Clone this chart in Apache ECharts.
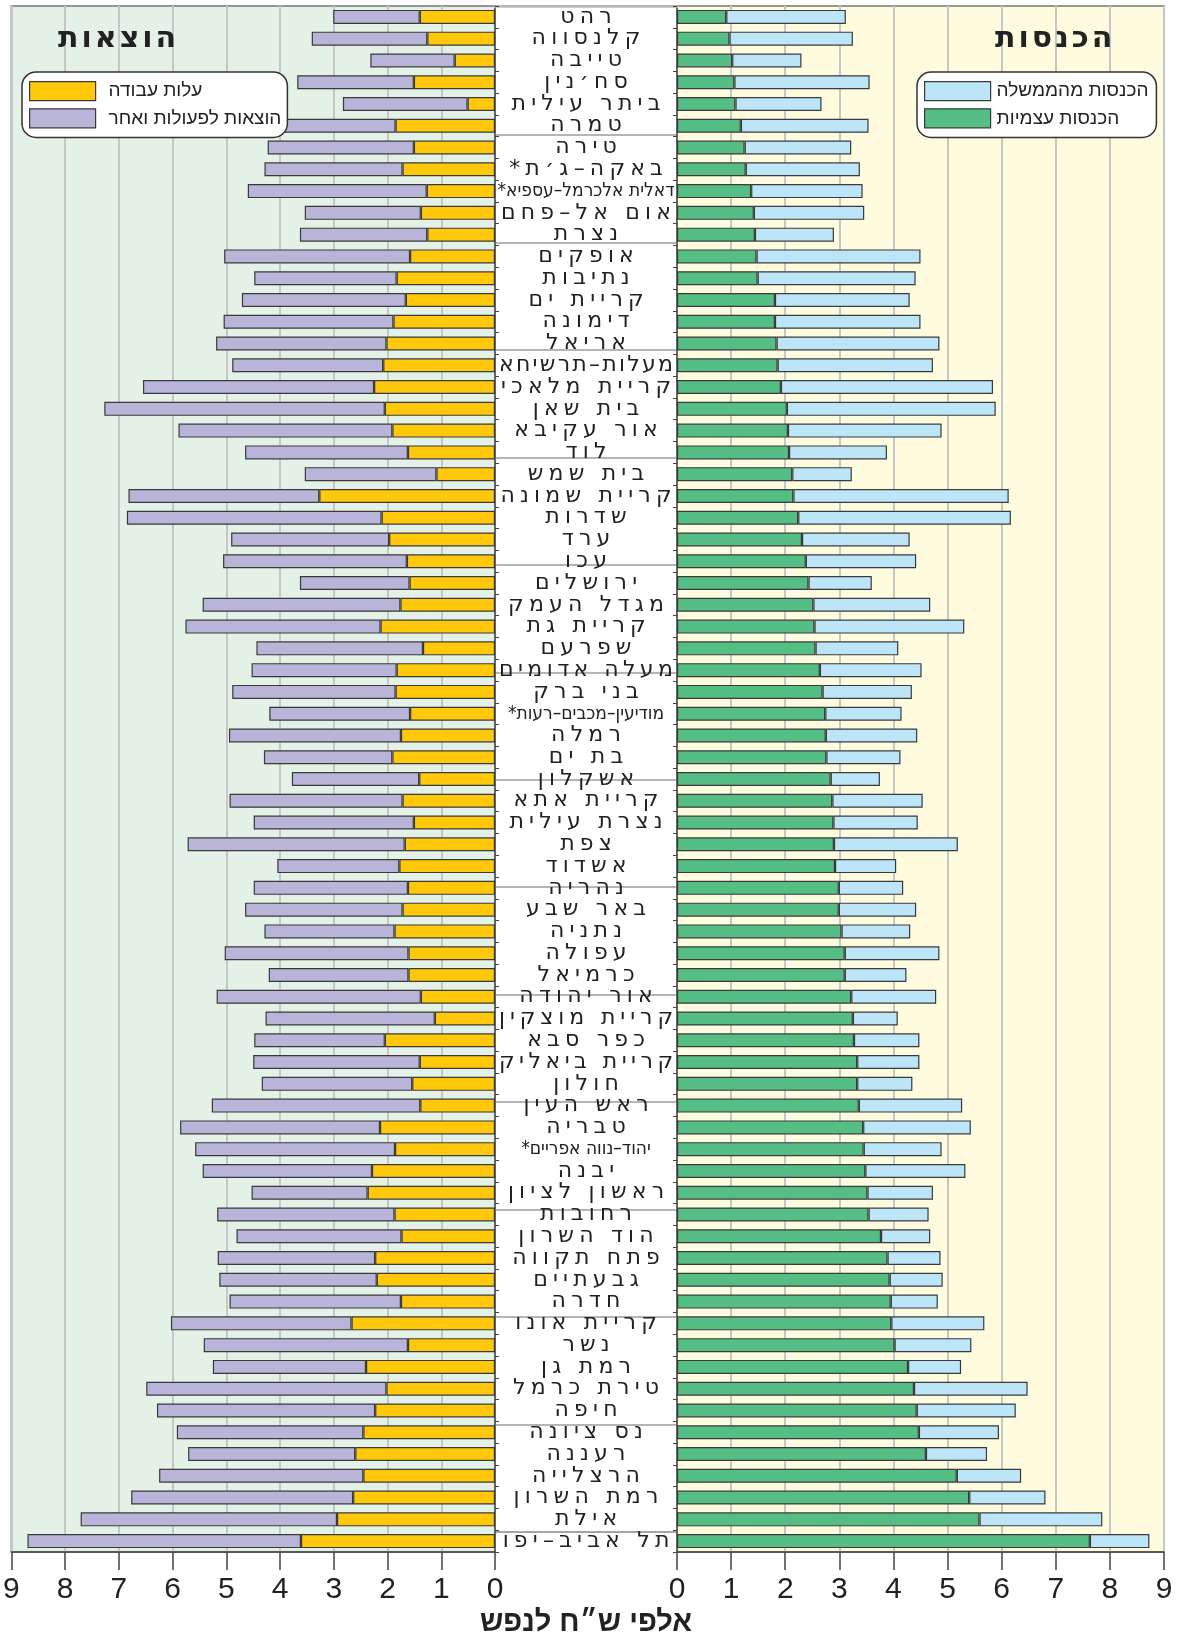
<!DOCTYPE html>
<html dir="rtl" lang="he">
<head>
<meta charset="utf-8">
<script src="https://cdn.jsdelivr.net/npm/echarts@6/dist/echarts.min.js"></script>
<style>html,body{margin:0;padding:0;background:#fff}#c{width:1179px;height:1642px}</style>
</head>
<body>
<div id="c"></div>
<script>
const cities = ['רהט','קלנסווה','טייבה','סח׳נין','ביתר עילית','טמרה','טירה','באקה–ג׳ת*','דאלית אלכרמל–עספיא*','אום אל–פחם','נצרת','אופקים','נתיבות','קריית ים','דימונה','אריאל','מעלות–תרשיחא','קריית מלאכי','בית שאן','אור עקיבא','לוד','בית שמש','קריית שמונה','שדרות','ערד','עכו','ירושלים','מגדל העמק','קריית גת','שפרעם','מעלה אדומים','בני ברק','מודיעין–מכבים–רעות*','רמלה','בת ים','אשקלון','קריית אתא','נצרת עילית','צפת','אשדוד','נהריה','באר שבע','נתניה','עפולה','כרמיאל','אור יהודה','קריית מוצקין','כפר סבא','קריית ביאליק','חולון','ראש העין','טבריה','יהוד–נווה אפריים*','יבנה','ראשון לציון','רחובות','הוד השרון','פתח תקווה','גבעתיים','חדרה','קריית אונו','נשר','רמת גן','טירת כרמל','חיפה','נס ציונה','רעננה','הרצלייה','רמת השרון','אילת','תל אביב–יפו'];

// expenses (thousand NIS per capita)
const laborCost = [1.40,1.26,0.75,1.51,0.51,1.85,1.51,1.72,1.27,1.38,1.26,1.58,1.83,1.66,1.89,2.02,2.08,2.25,2.05,1.91,1.62,1.09,3.27,2.11,1.97,1.64,1.59,1.76,2.13,1.34,1.83,1.85,1.58,1.75,1.91,1.41,1.72,1.51,1.68,1.78,1.62,1.72,1.87,1.61,1.61,1.38,1.12,2.05,1.40,1.54,1.39,2.14,1.86,2.29,2.37,1.87,1.74,2.23,2.20,1.75,2.67,1.62,2.40,2.02,2.23,2.45,2.60,2.45,2.64,2.94,3.61];
const otherExpenses = [1.61,2.15,1.57,2.17,2.32,2.07,2.72,2.57,3.33,2.16,2.37,3.46,2.65,3.05,3.16,3.17,2.81,4.30,5.22,3.98,3.03,2.45,3.55,4.74,2.94,3.42,2.04,3.68,3.63,3.10,2.70,3.04,2.62,3.20,2.39,2.37,3.22,2.98,4.04,2.27,2.87,2.93,2.42,3.42,2.60,3.80,3.15,2.43,3.10,2.80,3.88,3.72,3.72,3.15,2.16,3.30,3.07,2.93,2.93,3.19,3.36,3.80,2.85,4.47,4.06,3.47,3.11,3.80,4.13,4.77,5.09];

// income (thousand NIS per capita)
const ownIncome = [0.91,0.97,1.02,1.06,1.08,1.18,1.25,1.27,1.37,1.42,1.44,1.47,1.49,1.81,1.81,1.84,1.86,1.92,2.03,2.05,2.07,2.13,2.15,2.24,2.31,2.38,2.43,2.52,2.54,2.56,2.64,2.69,2.74,2.75,2.76,2.84,2.87,2.89,2.90,2.92,2.99,2.99,3.04,3.10,3.10,3.22,3.25,3.27,3.33,3.33,3.36,3.44,3.45,3.48,3.52,3.54,3.77,3.89,3.93,3.95,3.96,4.02,4.27,4.38,4.43,4.47,4.60,5.17,5.40,5.59,7.63];
const govIncome = [2.21,2.28,1.28,2.50,1.59,2.36,1.97,2.11,2.06,2.04,1.46,3.03,2.92,2.49,2.69,3.01,2.87,3.92,3.86,2.84,1.81,1.10,3.98,3.93,1.99,2.04,1.17,2.16,2.77,1.53,1.88,1.65,1.41,1.69,1.37,0.91,1.67,1.56,2.29,1.13,1.19,1.43,1.27,1.75,1.14,1.57,0.83,1.21,1.15,1.02,1.91,1.99,1.44,1.85,1.21,1.11,0.91,0.98,0.98,0.87,1.72,1.42,0.98,2.10,1.83,1.48,1.13,1.19,1.41,2.27,1.10];

const longNames = ['דאלית אלכרמל–עספיא*','מודיעין–מכבים–רעות*','יהוד–נווה אפריים*'];

// spaced-out lettering for the city names and panel titles (rendering only;
// Hebrew letters are unjoined, so each glyph is placed right-to-left with extra gap)
(function(){
  const proto = CanvasRenderingContext2D.prototype;
  const orig = proto.fillText;
  proto.fillText = function(text, x, y, maxW){
    const f = this.font || '';
    if (f.indexOf('DejaVu Sans') >= 0 && f.indexOf('Condensed') < 0) {
      const chars = Array.from(String(text));
      const n = chars.length;
      const ws = chars.map(c => this.measureText(c).width);
      const w0 = ws.reduce((a, b) => a + b, 0);
      const sp = /\b30px/.test(f) ? 3 : Math.max(0, Math.min(5.2, (174 - w0) / Math.max(1, n - 1)));
      const total = w0 + sp * (n - 1);
      const align = this.textAlign;
      let cx = align === 'center' ? x - total / 2 : (align === 'right' ? x - total : x);
      this.textAlign = 'left';
      for (let i = n - 1; i >= 0; i--) { orig.call(this, chars[i], cx, y); cx += ws[i] + sp; }
      this.textAlign = align;
      return;
    }
    return orig.apply(this, arguments);
  };
})();

const COL = {
  labor:'#FFC80B', other:'#B8B5D8', own:'#55BE85', gov:'#BDE5F8',
  bgL:'#E3F1E6', bgR:'#FFFBDF', grid:'#C6C6C6', edge:'#3a3a3a'
};

const catData = cities.map(c => longNames.includes(c)
  ? {value:c, textStyle:{fontSize:19, fontFamily:'DejaVu Sans Condensed', align:'center', color:'#222', padding:[0,0,3,0]}}
  : c);

// group separators in the name column: a line after every 5th city, starting after the 6th
const sepColors = [];
for (let b = 0; b <= cities.length; b++) sepColors.push(b >= 6 && b < cities.length && (b - 6) % 5 === 0 ? '#B5B5B5' : 'rgba(0,0,0,0)');

const TOP = 6, H = 1546;
const tickFont = {fontFamily:'Liberation Sans Narrow, Liberation Sans, Arial', fontSize:30, color:'#222'};
const barBorder = {borderColor:COL.edge, borderWidth:1.2};

const chart = echarts.init(document.getElementById('c'));
chart.setOption({
  animation:false,
  title:[
    {text:'הוצאות', left:53, top:19, textStyle:{fontFamily:'DejaVu Sans', fontWeight:'bold', fontSize:30, color:'#222'}},
    {text:'הכנסות', left:990, top:19, textStyle:{fontFamily:'DejaVu Sans', fontWeight:'bold', fontSize:30, color:'#222'}}
  ],
  legend:[
    {data:['עלות עבודה','הוצאות לפעולות ואחר'], orient:'vertical', left:22, top:72,
     itemWidth:66, itemHeight:19, itemGap:7, padding:[9,6,9,7], icon:'rect',
     backgroundColor:'#fff', borderColor:'#333', borderWidth:1.5, borderRadius:14,
     itemStyle:{borderColor:COL.edge, borderWidth:1.2},
     textStyle:{fontFamily:'Liberation Sans, Arial', fontSize:19, color:'#222', padding:[0,0,0,8]}},
    {data:['הכנסות מהממשלה','הכנסות עצמיות'], orient:'vertical', left:917, top:72,
     itemWidth:66, itemHeight:19, itemGap:7, padding:[9,8,9,7], icon:'rect',
     backgroundColor:'#fff', borderColor:'#333', borderWidth:1.5, borderRadius:14,
     itemStyle:{borderColor:COL.edge, borderWidth:1.2},
     textStyle:{fontFamily:'Liberation Sans, Arial', fontSize:19, color:'#222', padding:[0,0,0,1]}}
  ],
  grid:[
    {left:9, top:TOP, width:486, height:H, show:true, backgroundColor:COL.bgL, borderColor:'#777', borderWidth:1.5},
    {left:677, top:TOP, width:487, height:H, show:true, backgroundColor:COL.bgR, borderColor:'#777', borderWidth:1.5},
    {left:495, top:TOP, width:182, height:H, show:true, backgroundColor:'#fff', borderColor:'#888', borderWidth:1.5}
  ],
  xAxis:[
    {gridIndex:0, type:'value', min:0, max:9, interval:1, inverse:true, position:'bottom',
     axisLine:{show:true, lineStyle:{color:'#444', width:1.5}},
     axisTick:{show:true, length:18, lineStyle:{color:'#444', width:1.5}},
     axisLabel:Object.assign({margin:23}, tickFont),
     splitLine:{show:true, lineStyle:{color:COL.grid, width:2}}},
    {gridIndex:1, type:'value', min:0, max:9, interval:1, position:'bottom',
     axisLine:{show:true, lineStyle:{color:'#444', width:1.5}},
     axisTick:{show:true, length:18, lineStyle:{color:'#444', width:1.5}},
     axisLabel:Object.assign({margin:23}, tickFont),
     splitLine:{show:true, lineStyle:{color:COL.grid, width:2}}},
    {gridIndex:2, type:'value', min:0, max:1, position:'bottom',
     axisLine:{show:true, lineStyle:{color:'#BBBBBB', width:2.5}},
     axisTick:{show:false}, axisLabel:{show:false}, splitLine:{show:false},
     name:'אלפי ש״ח לנפש', nameLocation:'middle', nameGap:76,
     nameTextStyle:{fontFamily:'Liberation Sans, Arial', fontWeight:'bold', fontSize:29, color:'#222'}}
  ],
  yAxis:[
    {gridIndex:0, type:'category', data:cities, inverse:true, position:'right',
     axisLine:{show:true, lineStyle:{color:'#444', width:1.5}},
     axisTick:{show:true, length:4, lineStyle:{color:'#444'}},
     axisLabel:{show:false}, splitLine:{show:false}},
    {gridIndex:1, type:'category', data:catData, inverse:true, position:'left',
     axisLine:{show:true, lineStyle:{color:'#444', width:1.5}},
     axisTick:{show:true, length:4, lineStyle:{color:'#444'}},
     axisLabel:{show:true, interval:0, margin:91, align:'center', padding:[0,0,4,0],
       fontFamily:'DejaVu Sans', fontSize:22, color:'#222'},
     splitLine:{show:false}},
    {gridIndex:2, type:'value', inverse:true, min:0, max:cities.length, interval:1,
     axisLine:{show:false}, axisTick:{show:false}, axisLabel:{show:false},
     splitLine:{show:true, lineStyle:{color:sepColors, width:2}}}
  ],
  series:[
    {name:'עלות עבודה', type:'bar', xAxisIndex:0, yAxisIndex:0, stack:'exp', data:laborCost,
     barWidth:14, itemStyle:Object.assign({color:COL.labor}, barBorder)},
    {name:'הוצאות לפעולות ואחר', type:'bar', xAxisIndex:0, yAxisIndex:0, stack:'exp', data:otherExpenses,
     barWidth:14, itemStyle:Object.assign({color:COL.other}, barBorder)},
    {name:'הכנסות עצמיות', type:'bar', xAxisIndex:1, yAxisIndex:1, stack:'inc', data:ownIncome,
     barWidth:14, itemStyle:Object.assign({color:COL.own}, barBorder)},
    {name:'הכנסות מהממשלה', type:'bar', xAxisIndex:1, yAxisIndex:1, stack:'inc', data:govIncome,
     barWidth:14, itemStyle:Object.assign({color:COL.gov}, barBorder)}
  ]
});
</script>
</body>
</html>
